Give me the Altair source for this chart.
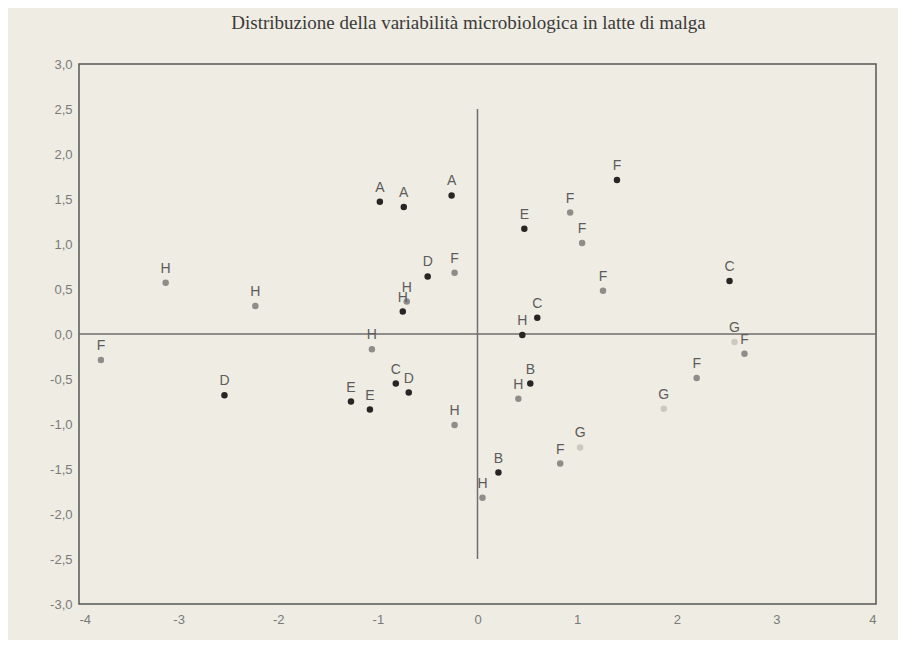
import altair as alt
import pandas as pd

labels = ["A", "A", "A", "H", "H", "D", "F", "H", "H", "F",
          "H", "D", "E", "E", "C", "D", "H", "F", "F", "E",
          "F", "F", "C", "C", "H", "G", "F", "F", "B", "H",
          "G", "G", "F", "B", "H"]
x_vals = [-0.98, -0.74, -0.26, -3.13, -2.23, -0.50, -0.23, -0.71, -0.75, -3.78,
          -1.06, -2.54, -1.27, -1.08, -0.82, -0.69, -0.23, 1.40, 0.93, 0.47,
          1.05, 1.26, 2.53, 0.60, 0.45, 2.58, 2.68, 2.20, 0.53, 0.41,
          1.87, 1.03, 0.83, 0.21, 0.05]
y_vals = [1.47, 1.41, 1.54, 0.57, 0.31, 0.64, 0.68, 0.36, 0.25, -0.29,
          -0.17, -0.68, -0.75, -0.84, -0.55, -0.65, -1.01, 1.71, 1.35, 1.17,
          1.01, 0.48, 0.59, 0.18, -0.01, -0.09, -0.22, -0.49, -0.55, -0.72,
          -0.83, -1.26, -1.44, -1.54, -1.82]
shades = ["dark", "dark", "dark", "mid", "mid", "dark", "mid", "mid", "dark", "mid",
          "mid", "dark", "dark", "dark", "dark", "dark", "mid", "dark", "mid", "dark",
          "mid", "mid", "dark", "dark", "dark", "light", "mid", "mid", "dark", "mid",
          "light", "light", "mid", "dark", "mid"]

# reference axes (crosshair) values
hline_y = [0.0]
hline_x_range = [-4.0, 4.0]
vline_x = [0.0]
vline_y_range = [-2.5, 2.5]

x_ticks = [-4, -3, -2, -1, 0, 1, 2, 3, 4]
y_ticks = [-3.0, -2.5, -2.0, -1.5, -1.0, -0.5, 0.0, 0.5, 1.0, 1.5, 2.0, 2.5, 3.0]

df = pd.DataFrame({"label": labels, "x": x_vals, "y": y_vals, "shade": shades})
hdf = pd.DataFrame({"y": hline_y, "x": [hline_x_range[0]], "x2": [hline_x_range[1]]})
vdf = pd.DataFrame({"x": vline_x, "y": [vline_y_range[0]], "y2": [vline_y_range[1]]})

label_font = "Liberation Sans"
xscale = alt.Scale(domain=[-4, 4], nice=False, zero=False)
yscale = alt.Scale(domain=[-3, 3], nice=False, zero=False)

xaxis = alt.Axis(values=x_ticks, title=None, grid=False, domain=False, ticks=False,
                 labelExpr="replace(format(datum.value, 'd'), '\u2212', '-')",
                 labelFont=label_font, labelFontSize=13, labelColor="#7a7a7a",
                 labelPadding=9)
yaxis = alt.Axis(values=y_ticks, title=None, grid=False, domain=False, ticks=False,
                 labelExpr="replace(replace(format(datum.value, '.1f'), '.', ','), '\u2212', '-')",
                 labelFont=label_font, labelFontSize=13, labelColor="#7a7a7a",
                 labelPadding=7)

hrule = alt.Chart(hdf).mark_rule(color="#6e6e6e", strokeWidth=1.5).encode(
    x=alt.X("x:Q", scale=xscale, axis=xaxis),
    x2="x2:Q",
    y=alt.Y("y:Q", scale=yscale, axis=yaxis),
)
vrule = alt.Chart(vdf).mark_rule(color="#6e6e6e", strokeWidth=1.5).encode(
    x=alt.X("x:Q", scale=xscale),
    y=alt.Y("y:Q", scale=yscale),
    y2="y2:Q",
)

points = alt.Chart(df).mark_point(filled=True, size=42, opacity=1).encode(
    x=alt.X("x:Q", scale=xscale),
    y=alt.Y("y:Q", scale=yscale),
    color=alt.Color("shade:N",
                    scale=alt.Scale(domain=["dark", "mid", "light"],
                                    range=["#2b2424", "#8e8d8a", "#cdc9c0"]),
                    legend=None),
)

texts = alt.Chart(df).mark_text(font=label_font, fontSize=14, color="#5c5c5c",
                                baseline="alphabetic", align="center", dy=-10).encode(
    x=alt.X("x:Q", scale=xscale),
    y=alt.Y("y:Q", scale=yscale),
    text="label:N",
)

chart = alt.layer(hrule, vrule, points, texts).properties(
    width=797,
    height=540,
    autosize=alt.AutoSizeParams(type="none"),
    padding={"left": 71, "top": 56, "right": 22, "bottom": 36},
    background="#efece3",
    title=alt.TitleParams(
        "Distribuzione della variabilità microbiologica in latte di malga",
        font="Liberation Serif", fontSize=19, fontWeight="normal", color="#3a3a3a",
        anchor="middle", offset=25, dx=-9,
    ),
).configure_view(stroke="#555555", strokeWidth=1.5)

chart.save("out.html", embed_options={"renderer": "svg", "actions": False})
